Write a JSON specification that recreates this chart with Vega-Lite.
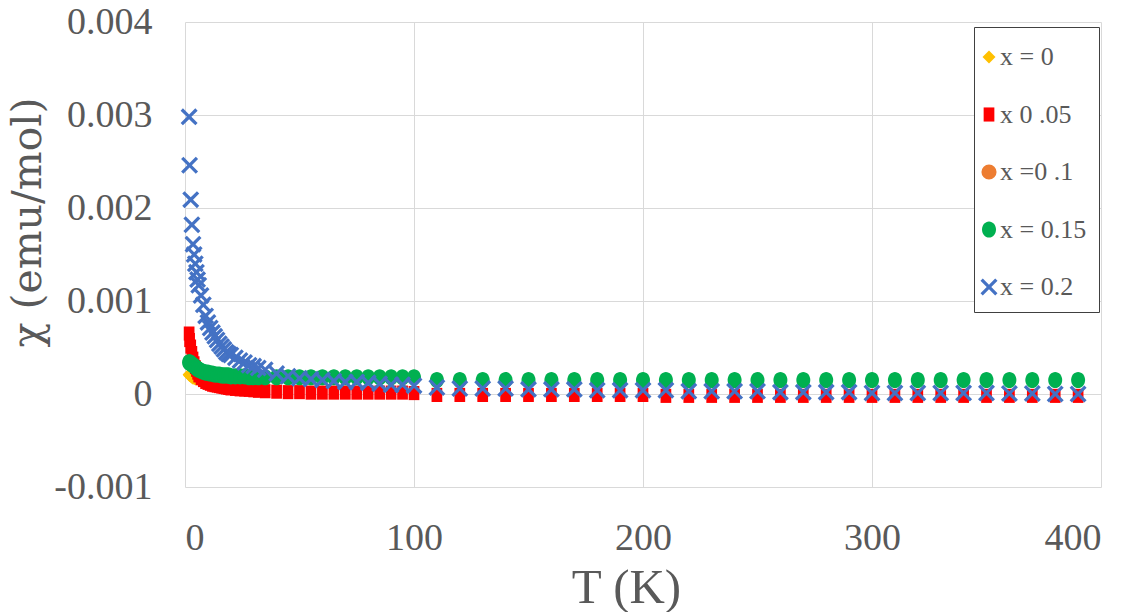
{
  "$schema": "https://vega.github.io/schema/vega-lite/v6.json",
  "width": 916,
  "height": 465,
  "autosize": {"type": "none"},
  "padding": {"left": 185, "top": 22, "right": 34, "bottom": 125},
  "background": "white",
  "config": {
    "view": {"stroke": null},
    "font": "Liberation Serif",
    "axis": {"titleFont": "Liberation Serif", "labelFont": "Liberation Serif"},
    "legend": {"titleFont": "Liberation Serif", "labelFont": "Liberation Serif"}
  },
  "data": {"values": [
    {"T": 1.8, "s0": 0.00021, "s05": 0.00065, "s15": 0.00034, "s2": 0.00298},
    {"T": 2, "s0": 0.0002, "s05": 0.00058, "s15": 0.00034, "s2": 0.00246},
    {"T": 2.5, "s0": 0.00019, "s05": 0.00051, "s15": 0.00033, "s2": 0.00209},
    {"T": 3, "s0": 0.00018, "s05": 0.00044, "s15": 0.00032, "s2": 0.00182},
    {"T": 3.5, "s0": 0.00017, "s05": 0.00038, "s15": 0.00031, "s2": 0.00161},
    {"T": 4, "s0": 0.00017, "s05": 0.00033, "s15": 0.0003, "s2": 0.0015},
    {"T": 4.5, "s0": 0.00016, "s05": 0.00029, "s15": 0.00029, "s2": 0.0014},
    {"T": 5, "s0": 0.00016, "s05": 0.00026, "s15": 0.00028, "s2": 0.00131},
    {"T": 5.5, "s0": 0.00016, "s05": 0.00023, "s15": 0.00027, "s2": 0.00123},
    {"T": 6, "s0": 0.00016, "s05": 0.0002, "s15": 0.00026, "s2": 0.00117},
    {"T": 7, "s0": 0.00016, "s05": 0.00017, "s15": 0.00025, "s2": 0.00106},
    {"T": 8, "s0": 0.00016, "s05": 0.00015, "s15": 0.00024, "s2": 0.00096},
    {"T": 9, "s0": 0.00016, "s05": 0.00013, "s15": 0.00023, "s2": 0.00084},
    {"T": 10, "s0": 0.00016, "s05": 0.00012, "s15": 0.00023, "s2": 0.00077},
    {"T": 11, "s0": 0.00016, "s05": 0.00011, "s15": 0.00022, "s2": 0.00071},
    {"T": 12, "s0": 0.00016, "s05": 0.0001, "s15": 0.00022, "s2": 0.00066},
    {"T": 13, "s0": 0.00016, "s05": 0.000095, "s15": 0.00021, "s2": 0.00062},
    {"T": 14, "s0": 0.00016, "s05": 0.00009, "s15": 0.00021, "s2": 0.00058},
    {"T": 15, "s0": 0.00016, "s05": 0.000085, "s15": 0.00021, "s2": 0.00054},
    {"T": 16, "s0": 0.00016, "s05": 0.00008, "s15": 0.0002, "s2": 0.00051},
    {"T": 17, "s0": 0.00016, "s05": 0.000075, "s15": 0.0002, "s2": 0.00048},
    {"T": 18, "s0": 0.00016, "s05": 0.00007, "s15": 0.0002, "s2": 0.00045},
    {"T": 19, "s0": 0.00016, "s05": 0.000065, "s15": 0.0002, "s2": 0.00043},
    {"T": 20, "s0": 0.00016, "s05": 0.00006, "s15": 0.00019, "s2": 0.00042},
    {"T": 22, "s0": 0.00016, "s05": 0.000055, "s15": 0.00019, "s2": 0.00039},
    {"T": 24, "s0": 0.00016, "s05": 0.00005, "s15": 0.00019, "s2": 0.00036},
    {"T": 26, "s0": 0.00016, "s05": 0.000048, "s15": 0.00019, "s2": 0.00034},
    {"T": 28, "s0": 0.00016, "s05": 0.000045, "s15": 0.00018, "s2": 0.00031},
    {"T": 30, "s0": 0.00016, "s05": 0.00004, "s15": 0.00018, "s2": 0.0003},
    {"T": 32, "s0": 0.00016, "s05": 0.000035, "s15": 0.00018, "s2": 0.00028},
    {"T": 35, "s0": 0.00016, "s05": 0.00003, "s15": 0.00018, "s2": 0.00026},
    {"T": 40, "s0": 0.00016, "s05": 0.000025, "s15": 0.00018, "s2": 0.00022},
    {"T": 45, "s0": 0.00016, "s05": 0.00002, "s15": 0.00018, "s2": 0.00019},
    {"T": 50, "s0": 0.00016, "s05": 0.00002, "s15": 0.00018, "s2": 0.00017},
    {"T": 55, "s0": 0.00016, "s05": 0.000015, "s15": 0.00018, "s2": 0.00016},
    {"T": 60, "s0": 0.00016, "s05": 0.000015, "s15": 0.00018, "s2": 0.00015},
    {"T": 65, "s0": 0.00016, "s05": 0.000015, "s15": 0.00018, "s2": 0.00014},
    {"T": 70, "s0": 0.00016, "s05": 0.000015, "s15": 0.00018, "s2": 0.00013},
    {"T": 75, "s0": 0.00016, "s05": 0.000015, "s15": 0.00018, "s2": 0.00013},
    {"T": 80, "s0": 0.00016, "s05": 0.000015, "s15": 0.00018, "s2": 0.00012},
    {"T": 85, "s0": 0.00016, "s05": 0.000015, "s15": 0.00018, "s2": 0.00011},
    {"T": 90, "s0": 0.00016, "s05": 0.000015, "s15": 0.00018, "s2": 0.0001},
    {"T": 95, "s0": 0.00016, "s05": 0.000015, "s15": 0.00018, "s2": 0.0001},
    {"T": 100, "s0": 0.00016, "s05": 0.00001, "s15": 0.00018, "s2": 0.00009},
    {"T": 110, "s0": 0.00015, "s05": -0.00001, "s15": 0.00015, "s2": 0.00007},
    {"T": 120, "s0": 0.00015, "s05": -0.00001, "s15": 0.00015, "s2": 0.00006},
    {"T": 130, "s0": 0.00015, "s05": -0.00001, "s15": 0.00015, "s2": 0.00006},
    {"T": 140, "s0": 0.00015, "s05": -0.00001, "s15": 0.00015, "s2": 0.00006},
    {"T": 150, "s0": 0.00015, "s05": -0.00001, "s15": 0.00015, "s2": 0.00005},
    {"T": 160, "s0": 0.00015, "s05": -0.00001, "s15": 0.00015, "s2": 0.00005},
    {"T": 170, "s0": 0.00015, "s05": -0.00001, "s15": 0.00015, "s2": 0.00005},
    {"T": 180, "s0": 0.00015, "s05": -0.00001, "s15": 0.00015, "s2": 0.00004},
    {"T": 190, "s0": 0.00015, "s05": -0.00001, "s15": 0.00015, "s2": 0.00004},
    {"T": 200, "s0": 0.00015, "s05": -0.00001, "s15": 0.00015, "s2": 0.00004},
    {"T": 210, "s0": 0.00015, "s05": -0.00002, "s15": 0.00015, "s2": 0.00004},
    {"T": 220, "s0": 0.00015, "s05": -0.00002, "s15": 0.00015, "s2": 0.00003},
    {"T": 230, "s0": 0.00015, "s05": -0.00002, "s15": 0.00015, "s2": 0.00003},
    {"T": 240, "s0": 0.00015, "s05": -0.00002, "s15": 0.00015, "s2": 0.00003},
    {"T": 250, "s0": 0.00015, "s05": -0.00002, "s15": 0.00015, "s2": 0.00003},
    {"T": 260, "s0": 0.00015, "s05": -0.00002, "s15": 0.00015, "s2": 0.00002},
    {"T": 270, "s0": 0.00015, "s05": -0.00002, "s15": 0.00015, "s2": 0.00002},
    {"T": 280, "s0": 0.00015, "s05": -0.00002, "s15": 0.00015, "s2": 0.00002},
    {"T": 290, "s0": 0.00015, "s05": -0.00002, "s15": 0.00015, "s2": 0.00002},
    {"T": 300, "s0": 0.00015, "s05": -0.00002, "s15": 0.00015, "s2": 0.00001},
    {"T": 310, "s0": 0.00015, "s05": -0.00002, "s15": 0.00015, "s2": 0.00001},
    {"T": 320, "s0": 0.00015, "s05": -0.00002, "s15": 0.00015, "s2": 0.00001},
    {"T": 330, "s0": 0.00015, "s05": -0.00002, "s15": 0.00015, "s2": 0.00001},
    {"T": 340, "s0": 0.00015, "s05": -0.00002, "s15": 0.00015, "s2": 0.00001},
    {"T": 350, "s0": 0.00015, "s05": -0.00002, "s15": 0.00015, "s2": 0.00001},
    {"T": 360, "s0": 0.00015, "s05": -0.00002, "s15": 0.00015, "s2": 0.000005},
    {"T": 370, "s0": 0.00015, "s05": -0.00002, "s15": 0.00015, "s2": 0.000005},
    {"T": 380, "s0": 0.00015, "s05": -0.00002, "s15": 0.00015, "s2": 0},
    {"T": 390, "s0": 0.00015, "s05": -0.00002, "s15": 0.00015, "s2": 0}
  ]},
  "transform": [{"fold": ["s0", "s05", "s15", "s2"], "as": ["key", "chi"]}],
  "mark": {"type": "point", "filled": true, "opacity": 1, "strokeWidth": 0},
  "encoding": {
    "x": {
      "field": "T", "type": "quantitative",
      "scale": {"domain": [0, 400], "nice": false},
      "axis": {
        "values": [0, 100, 200, 300, 400], "title": "T (K)",
        "domain": false, "ticks": false, "gridColor": "#D9D9D9", "gridWidth": 1,
        "labelFont": "Liberation Serif", "labelFontSize": 38, "labelColor": "#595959", "labelPadding": 32,
        "titleFont": "Liberation Serif", "titleFontSize": 49, "titleFontWeight": "normal", "titleColor": "#595959",
        "titleX": 441, "titleY": 100, "titleAlign": "center", "titleBaseline": "middle"
      }
    },
    "y": {
      "field": "chi", "type": "quantitative",
      "scale": {"domain": [-0.001, 0.004], "nice": false, "zero": false},
      "axis": {
        "values": [-0.001, 0, 0.001, 0.002, 0.003, 0.004], "title": "χ (emu/mol)",
        "labelExpr": "datum.value == 0 ? '0' : (datum.value < 0 ? '-' : '') + format(abs(datum.value), '.3f')",
        "domain": false, "ticks": false, "gridColor": "#D9D9D9", "gridWidth": 1,
        "labelFont": "Liberation Serif", "labelFontSize": 38, "labelColor": "#595959", "labelPadding": 33,
        "titleFont": "DejaVu Serif", "titleFontSize": 41, "titleFontWeight": "normal", "titleColor": "#595959",
        "titleX": -157, "titleY": 200, "titleAlign": "center", "titleBaseline": "middle", "titleAngle": -90
      }
    },
    "color": {
      "field": "key", "type": "nominal",
      "scale": {"domain": ["s0", "s05", "s1", "s15", "s2"], "range": ["#FFC000", "#FF0000", "#ED7D31", "#00B050", "#4472C4"]},
      "legend": {
        "title": " ", "titleFontSize": 4, "titlePadding": 1,
        "orient": "none", "legendX": 789, "legendY": 5, "direction": "vertical",
        "fillColor": "white", "strokeColor": "#404040", "padding": 12, "rowPadding": 31.5,
        "labelFont": "Liberation Serif", "labelFontSize": 26, "labelColor": "#595959", "labelOffset": -2,
        "symbolOffset": -10,
        "labelExpr": "datum.value == 's0' ? 'x = 0' : datum.value == 's05' ? 'x 0 .05' : datum.value == 's1' ? 'x =0 .1' : datum.value == 's15' ? 'x = 0.15' : 'x = 0.2'",
        "encode": {"symbols": {"update": {
          "shape": {"signal": "datum.value == 's0' ? 'diamond' : datum.value == 's05' ? 'square' : (datum.value == 's1' || datum.value == 's15') ? 'circle' : 'M-1,-0.73L-0.73,-1L0,-0.27L0.73,-1L1,-0.73L0.27,0L1,0.73L0.73,1L0,0.27L-0.73,1L-1,0.73L-0.27,0Z'"},
          "size": {"signal": "datum.value == 's05' ? 240 : datum.value == 's2' ? 160 : 200"},
          "strokeWidth": {"value": 0}
        }}}
      }
    },
    "shape": {
      "field": "key", "type": "nominal",
      "scale": {"domain": ["s0", "s05", "s1", "s15", "s2"], "range": ["diamond", "M-0.76,-1L0.76,-1L0.76,1L-0.76,1Z", "circle", "M0,-1A0.87,1,0,1,1,0,1A0.87,1,0,1,1,0,-1Z", "M-1,-0.73L-0.73,-1L0,-0.27L0.73,-1L1,-0.73L0.27,0L1,0.73L0.73,1L0,0.27L-0.73,1L-1,0.73L-0.27,0Z"]}
    },
    "size": {
      "field": "key", "type": "nominal",
      "scale": {"domain": ["s0", "s05", "s1", "s15", "s2"], "range": [169, 289, 225, 225, 169]}
    },
    "order": {"field": "key", "type": "ordinal"}
  }
}
